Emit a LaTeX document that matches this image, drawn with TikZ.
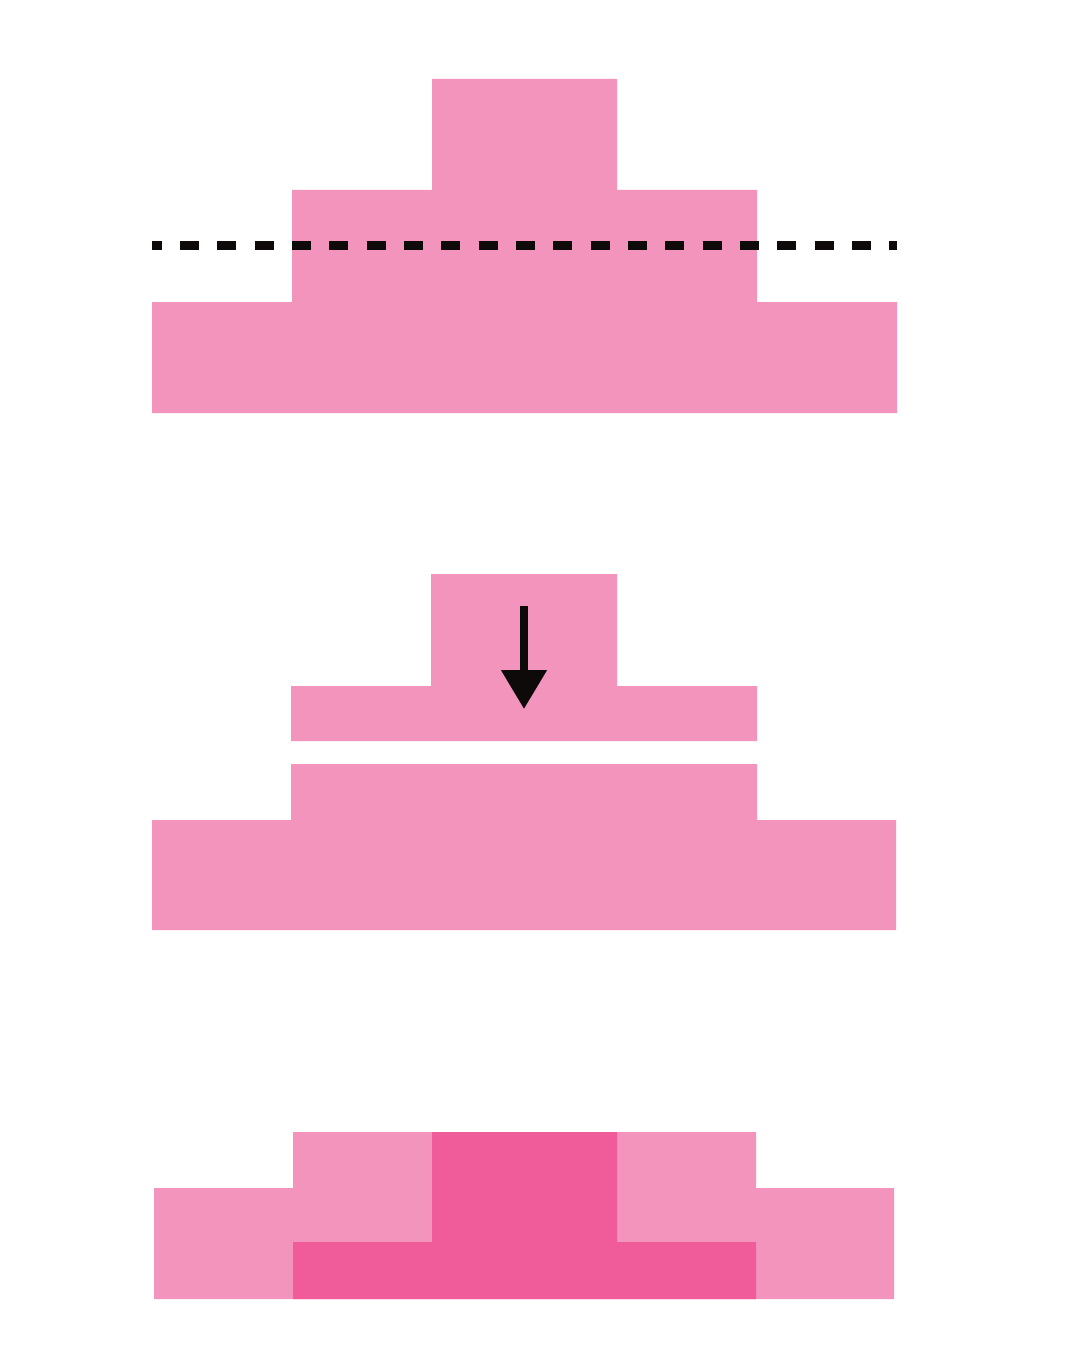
\documentclass[tikz,border=0pt]{standalone}
\usetikzlibrary{arrows.meta}
\definecolor{lightpink}{HTML}{F394BD}
\definecolor{darkpink}{HTML}{F05C9A}
\definecolor{inkblack}{HTML}{0F0A0A}
\tikzset{
  lightblock/.style={fill=lightpink, draw=none},
  darkblock/.style={fill=darkpink, draw=none},
  cutline/.style={draw=inkblack, line width=9pt, dash pattern=on 19pt off 18.33pt, dash phase=9.3pt},
  pressarrow/.style={draw=inkblack, line width=8pt, -{Triangle[width=44pt,length=39pt]}, fill=inkblack}
}
\begin{document}
\begin{tikzpicture}[x=1pt,y=-1pt]
\useasboundingbox (0,0) rectangle (1080,1372);
\fill[white] (0,0) rectangle (1080,1372);
% top figure
\fill[lightblock] (432,79) -- (617,79) -- (617,190) -- (757,190) -- (757,302) -- (897,302) -- (897,413) -- (152,413) -- (152,302) -- (292,302) -- (292,190) -- (432,190) -- cycle;
\coordinate (cutL) at (152,246);
\coordinate (cutR) at (897,246);
\draw[cutline] (cutL) -- (cutR);
% middle figure
\fill[lightblock] (431,574) -- (617,574) -- (617,686) -- (757,686) -- (757,741) -- (291,741) -- (291,686) -- (431,686) -- cycle;
\fill[lightblock] (291,764) -- (757,764) -- (757,820) -- (896,820) -- (896,930) -- (152,930) -- (152,820) -- (291,820) -- cycle;
\coordinate (arrS) at (524,606);
\coordinate (arrE) at (524,709);
\draw[pressarrow] (arrS) -- (arrE);
% bottom figure
\fill[lightblock] (154,1188) -- (293,1188) -- (293,1132) -- (756,1132) -- (756,1188) -- (894,1188) -- (894,1299) -- (154,1299) -- cycle;
\fill[darkblock] (432,1132) -- (617,1132) -- (617,1242) -- (756,1242) -- (756,1299) -- (293,1299) -- (293,1242) -- (432,1242) -- cycle;
\end{tikzpicture}
\end{document}
